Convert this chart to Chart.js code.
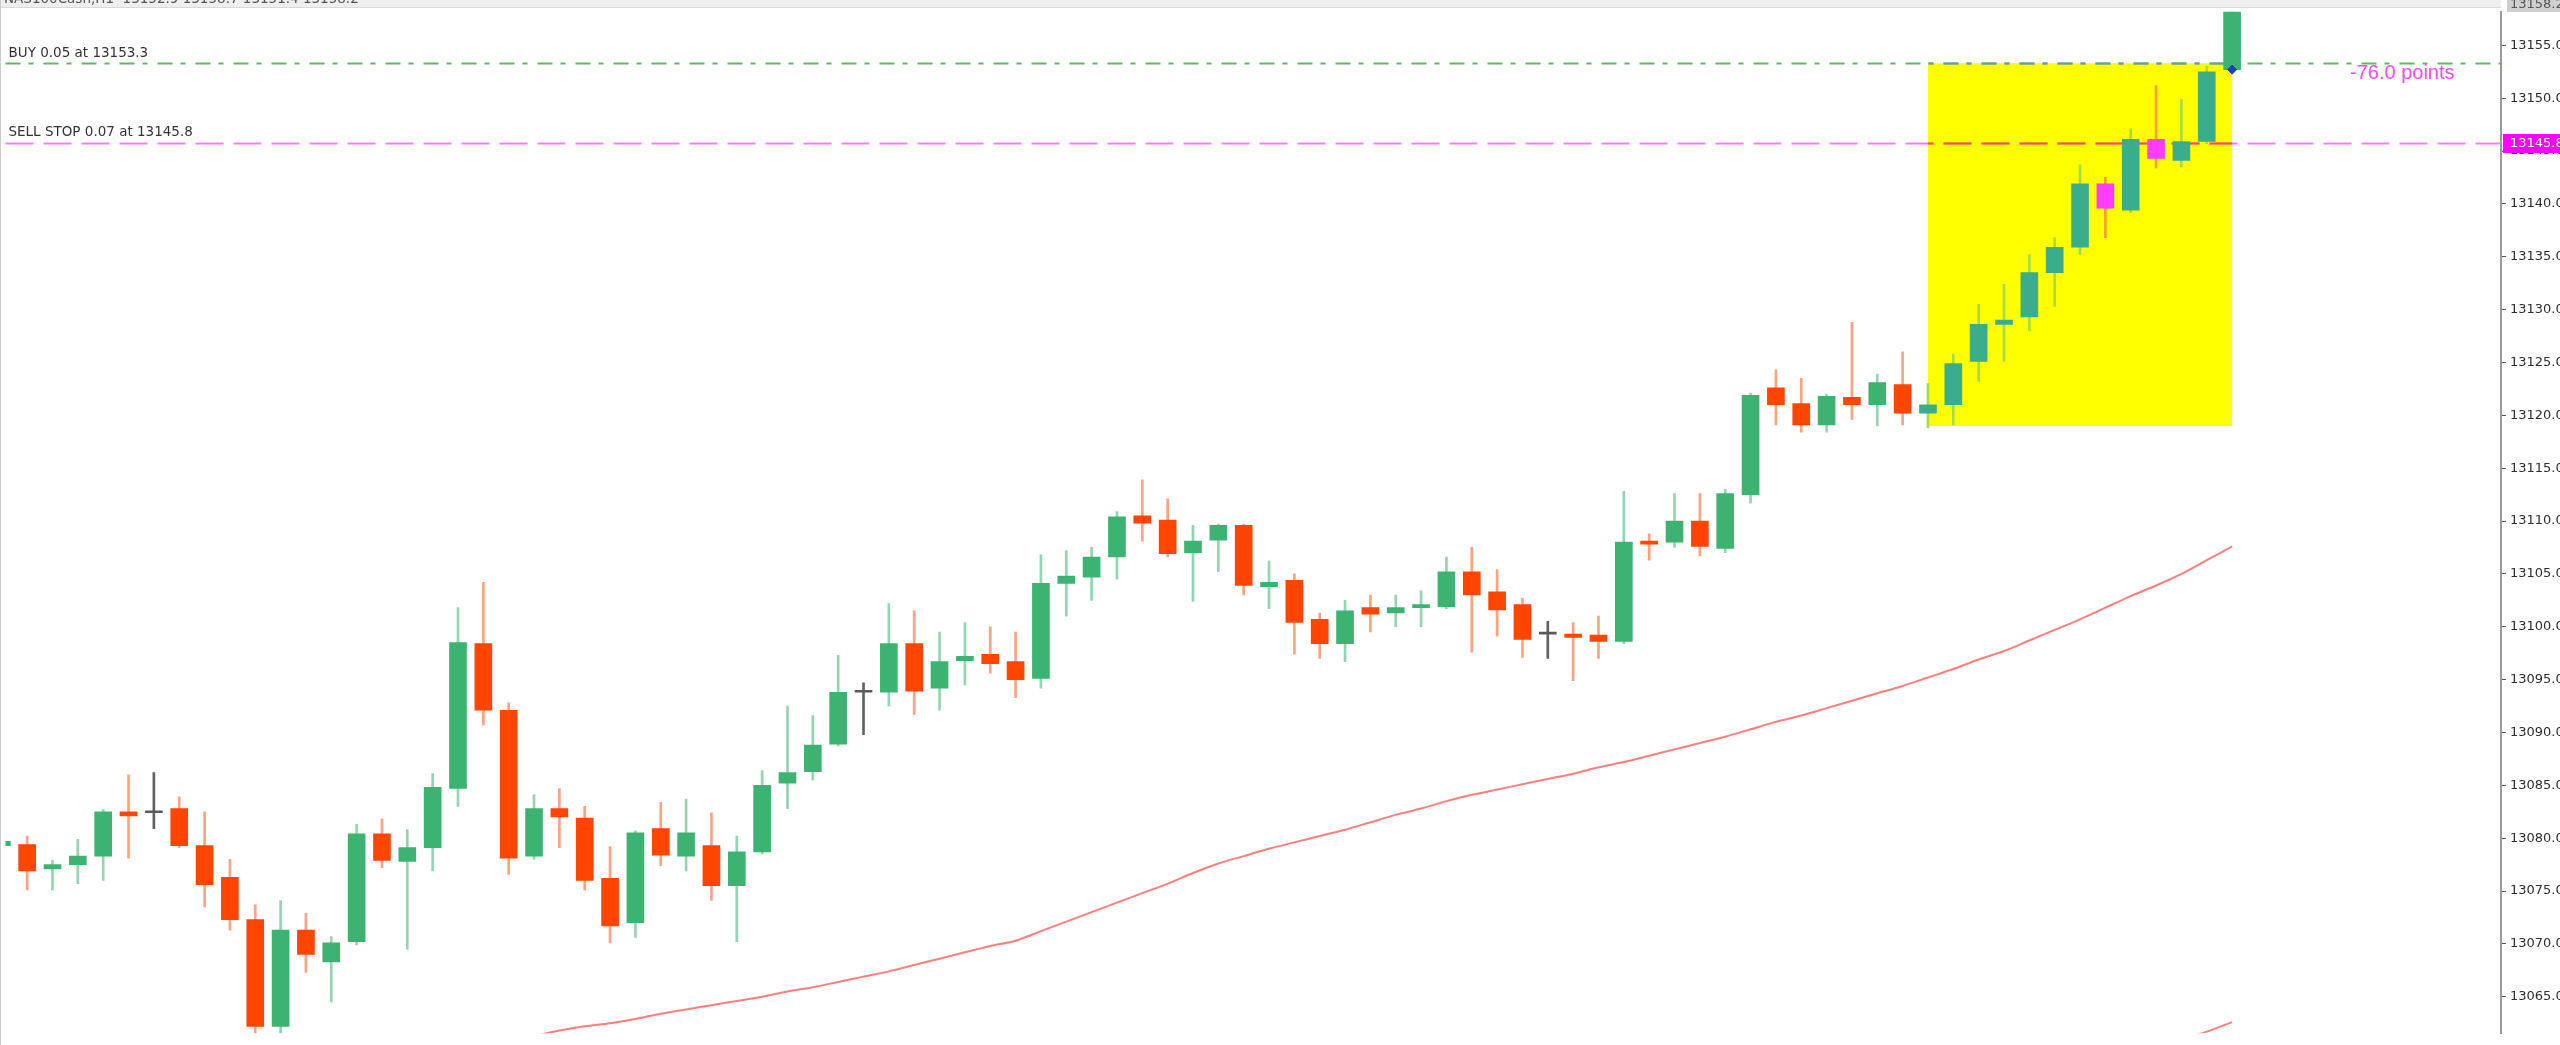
<!DOCTYPE html>
<html>
<head>
<meta charset="utf-8">
<script src="https://cdn.jsdelivr.net/npm/chart.js@4.4.1/dist/chart.umd.min.js"></script>
<style>
  html, body { margin: 0; padding: 0; background: #fff; }
  #wrap { width: 2560px; height: 1045px; }
</style>
</head>
<body>
<div id="wrap"><canvas id="priceChart" width="2560" height="1045"></canvas></div>
<script>
// H1 candles, oldest first (index 0 is cut by the left edge)
const opens = [13079.3, 13079.4, 13077.1, 13077.5, 13078.3, 13082.5, 13082.4, 13082.8, 13079.3, 13076.3,
  13072.3, 13062.2, 13071.3, 13068.3, 13070.2, 13080.4, 13077.8, 13079.1, 13084.7, 13098.4,
  13092.1, 13078.3, 13082.8, 13081.9, 13076.2, 13072.0, 13080.9, 13078.3, 13079.3, 13075.5,
  13078.7, 13085.2, 13086.3, 13088.9, 13093.8, 13093.8, 13098.4, 13094.2, 13096.8, 13097.4,
  13096.7, 13095.1, 13104.1, 13104.7, 13106.6, 13110.5, 13110.1, 13107.0, 13108.2, 13109.6,
  13103.8, 13104.4, 13100.7, 13098.4, 13101.8, 13101.3, 13101.8, 13101.9, 13105.2, 13103.3,
  13102.1, 13099.3, 13099.3, 13099.2, 13098.6, 13108.1, 13108.0, 13110.0, 13107.4, 13112.5,
  13122.6, 13121.1, 13119.1, 13121.7, 13121.0, 13122.9, 13120.2, 13121.0, 13125.1, 13128.6,
  13129.3, 13133.5, 13135.9, 13141.9, 13139.4, 13146.1, 13144.1, 13145.9, 13152.7];
const highs = [13080.0, 13080.2, 13077.9, 13079.9, 13082.7, 13086.0, 13086.2, 13083.9, 13082.5, 13078.0,
  13073.7, 13074.1, 13072.9, 13070.7, 13081.3, 13081.8, 13080.8, 13086.1, 13101.8, 13104.2,
  13092.8, 13084.1, 13084.7, 13083.0, 13079.2, 13080.7, 13083.4, 13083.7, 13082.4, 13080.2,
  13086.4, 13092.5, 13091.6, 13097.3, 13094.7, 13102.2, 13101.5, 13099.5, 13100.4, 13100.0,
  13099.5, 13106.8, 13107.2, 13107.5, 13110.9, 13113.9, 13112.1, 13109.6, 13109.7, 13109.7,
  13106.2, 13105.0, 13101.3, 13102.5, 13103.0, 13103.0, 13103.4, 13106.6, 13107.5, 13105.4,
  13102.7, 13100.5, 13100.4, 13101.0, 13112.8, 13108.8, 13112.6, 13112.6, 13113.0, 13122.1,
  13124.3, 13123.5, 13122.0, 13128.8, 13123.9, 13126.0, 13123.0, 13125.8, 13130.5, 13132.4,
  13135.2, 13136.8, 13143.7, 13142.5, 13147.1, 13151.2, 13149.9, 13153.0, 13160.0];
const lows = [13078.8, 13075.1, 13075.1, 13075.7, 13076.0, 13078.1, 13080.9, 13079.1, 13073.5, 13071.3,
  13061.0, 13061.3, 13067.3, 13064.5, 13069.9, 13077.2, 13069.5, 13076.9, 13083.0, 13090.7,
  13076.6, 13078.0, 13079.1, 13075.1, 13070.1, 13070.6, 13077.4, 13076.9, 13074.1, 13070.2,
  13078.5, 13082.8, 13085.5, 13088.7, 13089.8, 13092.5, 13091.7, 13092.1, 13094.5, 13095.6,
  13093.3, 13094.2, 13101.0, 13102.5, 13104.5, 13108.1, 13106.6, 13102.4, 13105.2, 13103.0,
  13101.7, 13097.4, 13097.0, 13096.7, 13099.5, 13100.0, 13100.0, 13101.7, 13097.6, 13099.1,
  13097.1, 13097.0, 13094.9, 13097.0, 13098.4, 13106.3, 13107.5, 13106.7, 13107.0, 13111.7,
  13119.1, 13118.4, 13118.4, 13119.6, 13119.0, 13119.1, 13118.8, 13119.1, 13123.2, 13125.1,
  13128.0, 13130.3, 13135.2, 13136.8, 13139.2, 13143.4, 13143.5, 13145.7, 13152.5];
const closes = [13079.7, 13076.9, 13077.5, 13078.3, 13082.5, 13082.1, 13082.4, 13079.3, 13075.6, 13072.3,
  13062.2, 13071.3, 13069.0, 13070.1, 13080.4, 13077.9, 13079.1, 13084.8, 13098.5, 13092.1,
  13078.1, 13082.8, 13082.0, 13076.0, 13071.7, 13080.5, 13078.4, 13080.5, 13075.5, 13078.7,
  13085.0, 13086.2, 13088.8, 13093.8, 13093.8, 13098.4, 13093.9, 13096.7, 13097.2, 13096.5,
  13095.0, 13104.1, 13104.8, 13106.6, 13110.4, 13109.8, 13106.9, 13108.1, 13109.6, 13103.9,
  13104.2, 13100.4, 13098.4, 13101.5, 13101.2, 13101.8, 13102.1, 13105.2, 13103.0, 13101.6,
  13098.8, 13099.3, 13099.0, 13098.6, 13108.0, 13107.8, 13110.0, 13107.6, 13112.6, 13121.9,
  13121.0, 13119.1, 13121.8, 13121.0, 13123.1, 13120.2, 13121.0, 13124.9, 13128.6, 13129.0,
  13133.5, 13135.9, 13141.9, 13139.6, 13146.1, 13144.3, 13145.9, 13152.5, 13159.5];

// moving averages (only the visible part)
const maFast = [null, null, null, null, null, null, null, null, null, null,
  null, null, null, null, null, null, null, null, null, null,
  13060.9, 13061.3, 13061.8, 13062.2, 13062.5, 13062.9, 13063.4, 13063.8, 13064.2, 13064.6,
  13065.0, 13065.5, 13065.9, 13066.4, 13066.9, 13067.4, 13068.0, 13068.6, 13069.2, 13069.8,
  13070.3, 13071.2, 13072.1, 13073.0, 13073.9, 13074.8, 13075.7, 13076.7, 13077.6, 13078.3,
  13079.0, 13079.6, 13080.2, 13080.8, 13081.5, 13082.2, 13082.8, 13083.5, 13084.1, 13084.6,
  13085.1, 13085.6, 13086.1, 13086.7, 13087.2, 13087.8, 13088.4, 13089.0, 13089.6, 13090.3,
  13091.0, 13091.6, 13092.3, 13093.0, 13093.7, 13094.4, 13095.2, 13096.0, 13096.9, 13097.7,
  13098.7, 13099.7, 13100.7, 13101.8, 13102.9, 13103.9, 13105.0, 13106.3, 13107.6];
const maSlow = new Array(86).fill(null).concat([13060.9, 13061.7, 13062.6]);

const priceTicks = [13065, 13070, 13075, 13080, 13085, 13090, 13095, 13100, 13105, 13110,
  13115, 13120, 13125, 13130, 13135, 13140, 13145, 13150, 13155];

const buyPrice = 13153.3;
const sellStopPrice = 13145.8;
const buyLabel = 'BUY 0.05 at 13153.3';
const sellLabel = 'SELL STOP 0.07 at 13145.8';
const pointsLabel = '-76.0 points';
const entryBar = 88, entryPrice = 13152.7;
// yellow box: bars 76..88, prices 13119.0..13153.3
const boxFrom = 76, boxTo = 88, boxLow = 13119.0, boxHigh = 13153.3;

const idx = opens.map((_, i) => i);
const inBox = i => i >= boxFrom && i < boxTo;
const bodyColor = i => {
  if (opens[i] === closes[i]) return '#5a5a5a';
  const up = closes[i] > opens[i];
  if (inBox(i)) return up ? '#3aae8c' : '#ff3cff';
  return up ? '#3cb371' : '#ff4500';
};
const wickColor = i => {
  if (opens[i] === closes[i]) return 'rgba(70,70,70,0.85)';
  const up = closes[i] > opens[i];
  if (inBox(i)) return up ? '#a6dc48' : '#ff9a3c';
  return up ? 'rgba(60,179,113,0.55)' : 'rgba(255,69,0,0.5)';
};

const overlay = {
  id: 'overlay',
  beforeDraw(chart) {
    const ctx = chart.ctx;
    ctx.save();
    ctx.fillStyle = '#ffffff';
    ctx.fillRect(0, 0, chart.width, chart.height);
    ctx.restore();
  },
  beforeDatasetsDraw(chart) {
    const { ctx, chartArea: a, scales: { x, y } } = chart;
    const bx0 = x.getPixelForValue(boxFrom), bx1 = x.getPixelForValue(boxTo);
    const by0 = y.getPixelForValue(boxHigh), by1 = y.getPixelForValue(boxLow);
    ctx.save();
    ctx.fillStyle = '#ffff00';
    ctx.fillRect(bx0, by0, bx1 - bx0, by1 - by0);

    const hline = (price, color, dash) => {
      const py = Math.round(y.getPixelForValue(price)) + 0.5;
      ctx.strokeStyle = color;
      ctx.lineWidth = 2;
      ctx.setLineDash(dash);
      ctx.beginPath();
      ctx.moveTo(a.left, py);
      ctx.lineTo(a.right, py);
      ctx.stroke();
    };
    hline(buyPrice, '#62b862', [15, 8, 5, 10]);
    hline(sellStopPrice, '#ff7aff', [28, 10]);
    // segments over the yellow box look different
    ctx.beginPath();
    ctx.rect(bx0, by0 - 3, bx1 - bx0, by1 - by0 + 3);
    ctx.clip();
    hline(buyPrice, '#6a9ea0', [15, 8, 5, 10]);
    hline(sellStopPrice, '#ff5a14', [28, 10]);
    ctx.restore();
  },
  afterDraw(chart) {
    const { ctx, chartArea: a, scales: { y } } = chart;
    ctx.save();
    // chart texts
    ctx.font = '13.5px "DejaVu Sans"';
    ctx.fillStyle = '#333';
    ctx.textBaseline = 'alphabetic';
    ctx.textAlign = 'left';
    ctx.fillText(buyLabel, a.left + 3, y.getPixelForValue(buyPrice) - 6);
    ctx.fillText(sellLabel, a.left + 3, y.getPixelForValue(sellStopPrice) - 7);

    ctx.font = '20px "Liberation Sans"';
    ctx.fillStyle = '#ff44ff';
    ctx.textBaseline = 'middle';
    ctx.fillText(pointsLabel, a.right - 151, y.getPixelForValue(buyPrice) + 10);

    // price tag of the sell stop on the axis
    const sy = Math.round(y.getPixelForValue(sellStopPrice));
    ctx.fillStyle = '#ff00ff';
    ctx.fillRect(a.right + 2, sy - 9, chart.width - a.right, 19);
    ctx.fillStyle = '#ffffff';
    ctx.font = '13px "DejaVu Sans"';
    ctx.fillText(sellStopPrice.toFixed(1), a.right + 9, sy + 1);

    // top strip with the (cut) chart header
    ctx.fillStyle = '#efefef';
    ctx.fillRect(0, 0, a.right, 7);
    ctx.fillStyle = '#d9d9d9';
    ctx.fillRect(0, 7, a.right, 1);
    ctx.fillStyle = '#cfcfcf';
    ctx.fillRect(a.right + 6, 0, chart.width - a.right, 12);
    ctx.fillStyle = '#555';
    ctx.font = '13.5px "DejaVu Sans"';
    ctx.textBaseline = 'alphabetic';
    ctx.fillText('NAS100Cash,H1  13152.9 13158.7 13151.4 13158.2', 4, 3);
    ctx.font = '13px "DejaVu Sans"';
    ctx.fillText('13158.2', a.right + 9, 8);

    // left frame
    ctx.fillStyle = '#cccccc';
    ctx.fillRect(0, 0, 1, chart.height);
    ctx.restore();
  }
};

new Chart(document.getElementById('priceChart'), {
  type: 'bar',
  data: {
    datasets: [
      {
        type: 'scatter',
        data: [{ x: entryBar, y: entryPrice }],
        pointStyle: 'rectRot',
        pointRadius: 4.5,
        backgroundColor: '#1f3fbf',
        borderColor: '#1f3fbf',
        order: 0
      },
      {
        label: 'body',
        data: idx.map(i => ({ x: i, y: [Math.min(opens[i], closes[i]), Math.max(opens[i], closes[i])] })),
        backgroundColor: idx.map(bodyColor),
        barThickness: 17,
        minBarLength: 2,
        grouped: false,
        order: 1
      },
      {
        label: 'wick',
        data: idx.map(i => ({ x: i, y: [lows[i], highs[i]] })),
        backgroundColor: idx.map(wickColor),
        barThickness: 2,
        grouped: false,
        order: 2
      },
      {
        type: 'line',
        data: idx.map(i => ({ x: i, y: maFast[i] })),
        borderColor: 'rgba(255,112,112,0.9)',
        borderWidth: 2,
        pointRadius: 0,
        tension: 0.3,
        order: 3
      },
      {
        type: 'line',
        data: idx.map(i => ({ x: i, y: maSlow[i] })),
        borderColor: 'rgba(255,112,112,0.9)',
        borderWidth: 2,
        pointRadius: 0,
        tension: 0.3,
        order: 3
      }
    ]
  },
  options: {
    responsive: false,
    animation: false,
    devicePixelRatio: 1,
    layout: { padding: { top: 8, left: 0, right: 0, bottom: 0 } },
    plugins: { legend: { display: false }, tooltip: { enabled: false } },
    scales: {
      x: {
        type: 'linear',
        display: false,
        offset: false,
        min: 0.1457,
        max: 98.61
      },
      y: {
        position: 'right',
        min: 13061.55,
        max: 13158.17,
        afterBuildTicks: scale => { scale.ticks = priceTicks.map(v => ({ value: v })); },
        afterFit: scale => { scale.width = 59; },
        border: { display: true, color: '#9a9a9a', width: 2 },
        grid: { drawOnChartArea: false, drawTicks: true, tickLength: 5, color: '#555', lineWidth: 1 },
        ticks: {
          padding: 4,
          color: '#2e2e2e',
          font: { family: 'DejaVu Sans', size: 13 },
          callback: v => v.toFixed(1)
        }
      }
    }
  },
  plugins: [overlay]
});
</script>
</body>
</html>
